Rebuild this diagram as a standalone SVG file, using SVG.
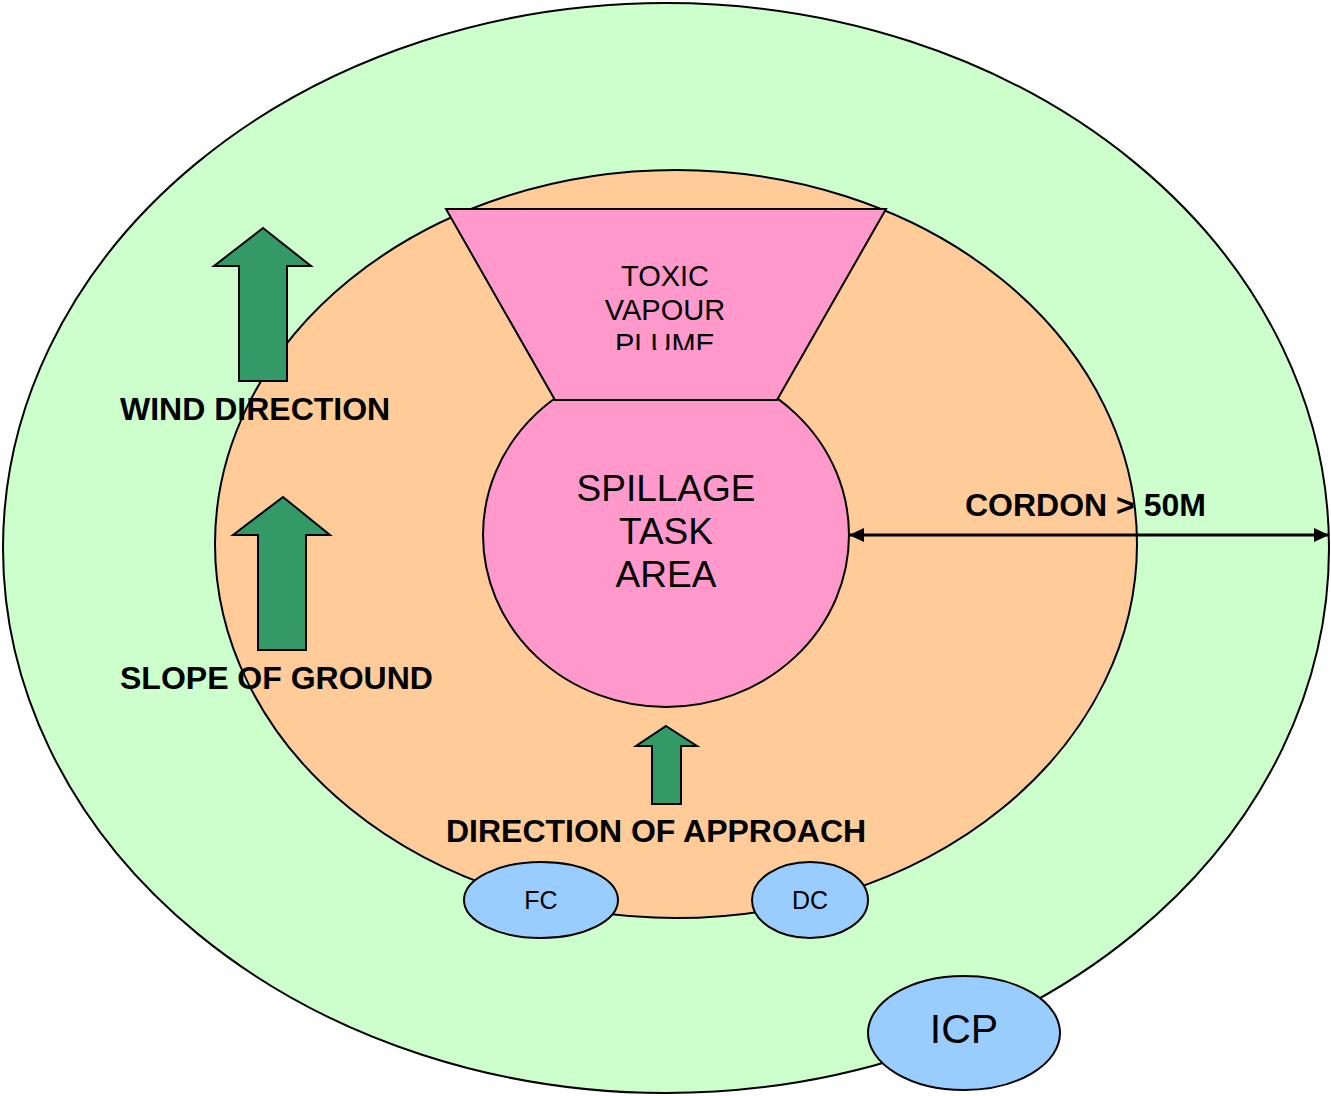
<svg xmlns="http://www.w3.org/2000/svg" width="1331" height="1096" viewBox="0 0 1331 1096">
  <style>
    .zone { stroke: #000; stroke-width: 2; }
    .arrow { fill: #339966; stroke: #000; stroke-width: 2; stroke-linejoin: miter; }
    .post { fill: #99CCFF; stroke: #000; stroke-width: 2; }
    .lbl { font-family: "Liberation Sans", Arial, sans-serif; fill: #000; text-anchor: middle; }
    .bold { font-family: "Liberation Sans", Arial, sans-serif; font-weight: bold; font-size: 32px; fill: #000; }
  </style>
  <defs>
    <marker id="head" viewBox="0 0 15 14" refX="14" refY="7" markerWidth="15" markerHeight="14" markerUnits="userSpaceOnUse" orient="auto-start-reverse">
      <path d="M0,0 L15,7 L0,14 z" fill="#000"/>
    </marker>
    <clipPath id="plumeClip">
      <rect x="440" y="200" width="460" height="150"/>
    </clipPath>
  </defs>

  <!-- outer cordon zone -->
  <g id="outer-zone">
    <ellipse class="zone" cx="666" cy="548" rx="663" ry="545" fill="#CCFFCC"/>
  </g>

  <!-- inner hazard zone -->
  <g id="inner-zone">
    <ellipse class="zone" cx="676" cy="544" rx="461" ry="374" fill="#FFCC99"/>
  </g>

  <!-- spillage task area -->
  <g id="spillage">
    <ellipse class="zone" cx="666" cy="535" rx="183" ry="172" fill="#FF99CC"/>
    <text class="lbl" font-size="37" x="666" y="501">SPILLAGE</text>
    <text class="lbl" font-size="37" x="666" y="544">TASK</text>
    <text class="lbl" font-size="37" x="666" y="587">AREA</text>
  </g>

  <!-- toxic vapour plume -->
  <g id="plume">
    <polygon class="zone" points="446,209 886,209 777,400 555,400" fill="#FF99CC"/>
    <g clip-path="url(#plumeClip)">
      <text class="lbl" font-size="29" x="665" y="286">TOXIC</text>
      <text class="lbl" font-size="29" x="665" y="320">VAPOUR</text>
      <text class="lbl" font-size="29" x="665" y="354">PLUME</text>
    </g>
  </g>

  <!-- direction arrows -->
  <g id="wind-arrow">
    <polygon class="arrow" points="263,228 311,266 287,266 287,381 239,381 239,266 214,266"/>
  </g>
  <g id="slope-arrow">
    <polygon class="arrow" points="283,497 330,535 306,535 306,650 258,650 258,535 233,535"/>
  </g>
  <g id="approach-arrow">
    <polygon class="arrow" points="666,726 697,746 681,746 681,804 652,804 652,746 636,746"/>
  </g>

  <!-- control points -->
  <g id="fc">
    <ellipse class="post" cx="541" cy="900" rx="77" ry="38"/>
    <text class="lbl" font-size="25" x="541" y="909">FC</text>
  </g>
  <g id="dc">
    <ellipse class="post" cx="810" cy="900" rx="58" ry="38"/>
    <text class="lbl" font-size="25" x="810" y="909">DC</text>
  </g>
  <g id="icp">
    <ellipse class="post" cx="964" cy="1033" rx="96" ry="57"/>
    <text class="lbl" font-size="41" x="964" y="1043">ICP</text>
  </g>

  <!-- cordon distance connector -->
  <g id="connectors">
    <line x1="850" y1="535" x2="1328" y2="535" stroke="#000" stroke-width="3" marker-start="url(#head)" marker-end="url(#head)"/>
  </g>

  <!-- labels -->
  <g id="labels">
    <text class="bold" x="120" y="420">WIND DIRECTION</text>
    <text class="bold" x="120" y="689">SLOPE OF GROUND</text>
    <text class="bold" x="446" y="842">DIRECTION OF APPROACH</text>
    <text class="bold" x="965" y="516">CORDON &gt; 50M</text>
  </g>
</svg>
